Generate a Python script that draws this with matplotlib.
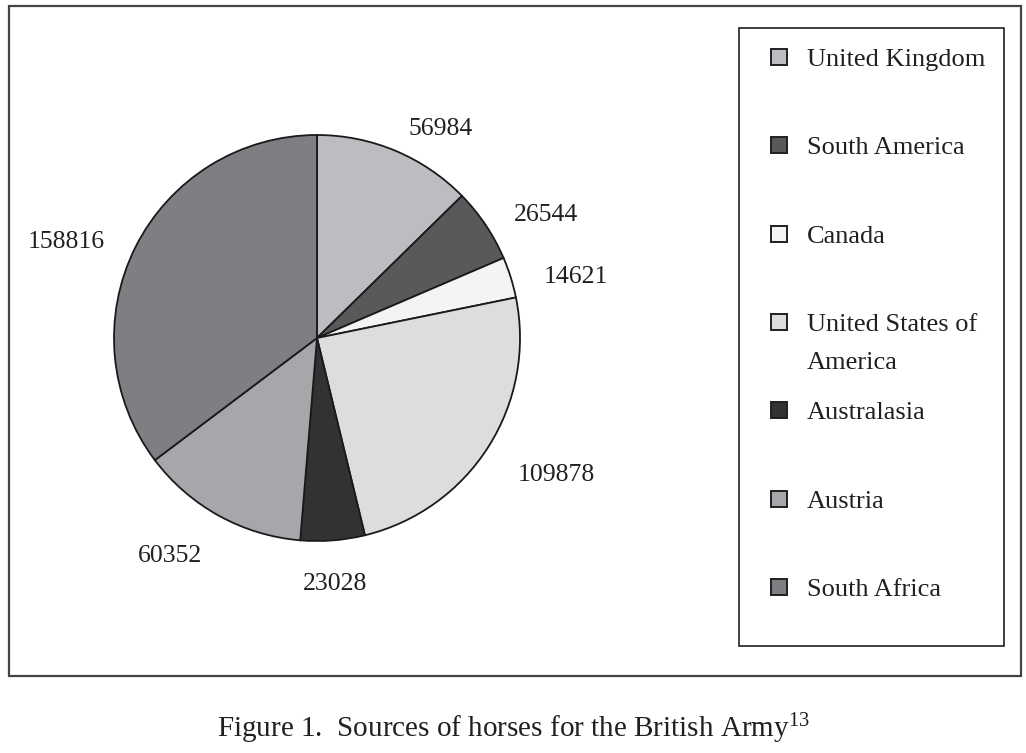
import matplotlib.pyplot as plt
from matplotlib.patches import Rectangle

# datos del grafico
regions = ['United Kingdom', 'South America', 'Canada', 'United States of\nAmerica',
           'Australasia', 'Austria', 'South Africa']
horses = [56984, 26544, 14621, 109878, 23028, 60352, 158816]
colors = ['#bcbdc0', '#58595b', '#f4f4f4', '#dcdddf', '#333132', '#a6a7aa', '#7e7f83']
caption = 'Figure 1.  Sources of horses for the British Army$^{13}$'

W, H = 1026, 753
plt.rcParams['font.family'] = ['Liberation Serif', 'DejaVu Serif']
plt.rcParams['mathtext.fontset'] = 'custom'
plt.rcParams['mathtext.rm'] = 'Liberation Serif'
plt.rcParams['mathtext.it'] = 'Liberation Serif'

fig = plt.figure(figsize=(W / 100, H / 100), dpi=100)


def fx(px):
    return px / W


def fy(py):
    return 1 - py / H


# pie: centro (317, 337) px, radio 203 px, limites del eje +-1.25
cx, cy, r = 317, 338, 203
half = 1.25 * r
ax = fig.add_axes([fx(cx - half), fy(cy + half), 2 * half / W, 2 * half / H])
wedges, texts = ax.pie(horses, colors=colors, startangle=90, counterclock=False,
                       labels=[str(v) for v in horses], labeldistance=1.17,
                       wedgeprops=dict(edgecolor='#1a1a1a', linewidth=1.3),
                       textprops=dict(fontsize=18.5, color='#231f20'))
ax.set_aspect('equal')
# bajo un poco las etiquetas
for t in texts:
    x, y = t.get_position()
    t.set_position((x, y - 0.035))
    t.set_va('center_baseline')
texts[4].set_ha('center')

# marco exterior
fig.patches.append(Rectangle((fx(9), fy(676)), fx(1021) - fx(9), fy(6) - fy(676),
                             transform=fig.transFigure, fill=False,
                             edgecolor='#444444', linewidth=1.6))
# caja de la leyenda
fig.patches.append(Rectangle((fx(739), fy(646)), fx(1004) - fx(739), fy(28) - fy(646),
                             transform=fig.transFigure, fill=False,
                             edgecolor='#231f20', linewidth=1.2))

# leyenda a mano
for i, (name, col) in enumerate(zip(regions, colors)):
    yc = 57 + 88.3 * i
    fig.patches.append(Rectangle((fx(771), fy(yc + 8)), 16 / W, 16 / H,
                                 transform=fig.transFigure, facecolor=col,
                                 edgecolor='#231f20', linewidth=1.4))
    for j, line in enumerate(name.split('\n')):
        fig.text(fx(807), fy(yc + 9 + 38 * j), line, fontsize=19, color='#231f20',
                 ha='left', va='baseline')

fig.text(0.5, fy(737), caption, fontsize=21, color='#231f20',
         ha='center', va='baseline')

fig.savefig('out.png', dpi=100)
